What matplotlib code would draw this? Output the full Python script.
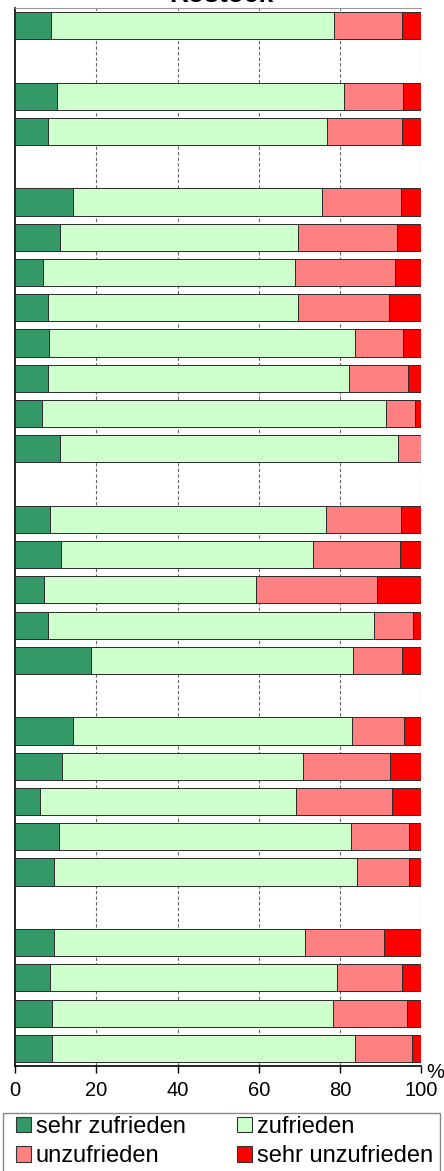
import numpy as np
import matplotlib
matplotlib.use("Agg")
import matplotlib.pyplot as plt
from matplotlib.patches import Patch, Rectangle

plt.rcParams['font.family'] = ['Liberation Sans', 'DejaVu Sans']

title = "Rostock"
series_names = ["sehr zufrieden", "zufrieden", "unzufrieden", "sehr unzufrieden"]
colors = ["#339966", "#CCFFCC", "#FF8080", "#FF0000"]
nan = np.nan

# 30 rows top-to-bottom; NaN marks empty spacer rows
sehr_zufrieden = [8.9, nan, 10.4, 8.0, nan, 14.1, 11.0, 6.8, 8.0, 8.2, 8.0, 6.5, 10.9, nan,
                  8.5, 11.3, 7.1, 8.0, 18.7, nan, 14.1, 11.6, 6.0, 10.7, 9.5, nan,
                  9.5, 8.5, 9.0, 9.0]
zufrieden = [69.7, nan, 70.7, 68.8, nan, 61.4, 58.8, 62.2, 61.8, 75.6, 74.3, 84.8, 83.5, nan,
             68.1, 62.2, 52.2, 80.5, 64.6, nan, 69.0, 59.4, 63.3, 72.0, 74.7, nan,
             61.8, 70.9, 69.4, 74.8]
unzufrieden = [16.8, nan, 14.5, 18.6, nan, 19.6, 24.4, 24.7, 22.4, 11.7, 14.4, 7.3, 5.6, nan,
               18.5, 21.4, 29.9, 9.5, 12.1, nan, 12.8, 21.4, 23.6, 14.3, 12.8, nan,
               19.6, 16.0, 18.1, 14.1]
sehr_unzufrieden = [4.6, nan, 4.4, 4.6, nan, 4.9, 5.8, 6.3, 7.8, 4.5, 3.3, 1.4, 0.0, nan,
                    4.9, 5.1, 10.8, 2.0, 4.6, nan, 4.1, 7.6, 7.1, 3.0, 3.0, nan,
                    9.1, 4.6, 3.5, 2.1]
xticks = [0, 20, 40, 60, 80, 100]

W, H = 444, 1171
fig = plt.figure(figsize=(W / 100, H / 100), dpi=100)
ax = fig.add_axes([15.3 / W, 1 - 1066 / H, (421 - 15.3) / W, (1066 - 8) / H])

series = [sehr_zufrieden, zufrieden, unzufrieden, sehr_unzufrieden]
n = len(sehr_zufrieden)
y = np.arange(n)
left = np.zeros(n)
for vals, c in zip(series, colors):
    v = np.array(vals, dtype=float)
    mask = ~np.isnan(v)
    ax.barh(y[mask], v[mask], left=left[mask], height=0.77, color=c,
            edgecolor="#2a2a2a", linewidth=0.7, zorder=3)
    left[mask] += v[mask]

ax.set_xlim(0, 100)
ax.set_ylim(n - 0.5, -0.5)
ax.set_yticks([])
ax.set_xticks(xticks)
ax.set_xticklabels([str(t) for t in xticks], fontsize=14.5)
ax.tick_params(axis='x', direction='out', length=5, width=1, color='black', pad=6)
for xv in xticks[1:]:
    ax.axvline(xv, color='#666666', linestyle=(0, (3, 2)), linewidth=0.8, zorder=1)
ax.spines['left'].set_color('black')
ax.spines['left'].set_linewidth(1.2)
ax.spines['bottom'].set_color('black')
ax.spines['bottom'].set_linewidth(1.2)
ax.spines['right'].set_visible(False)
ax.spines['top'].set_color('#999999')
ax.spines['top'].set_linewidth(0.8)

fig.text(421 / W + 0.012, 1 - 1072 / H, "%", fontsize=14.5, ha='left', va='center')
fig.text(221 / W, 1 - 2 / H, title, fontsize=19, fontweight='bold', ha='center', va='baseline')

# legend frame drawn separately (extends beyond the bottom edge as in the reference)
fig.patches.append(Rectangle((3 / W, 1 - 1180 / H), (440 - 3) / W, (1180 - 1113) / H,
                             transform=fig.transFigure, facecolor='white',
                             edgecolor='#888888', linewidth=1.0, zorder=0))
order = [0, 2, 1, 3]
handles = [Patch(facecolor=colors[i], edgecolor='#333333', linewidth=0.8) for i in order]
labels = [series_names[i] for i in order]
leg = fig.legend(handles, labels, ncol=2, loc='upper left',
                 bbox_to_anchor=(16 / W, 1 - 1116 / H), fontsize=17,
                 frameon=False, handlelength=0.63, handleheight=0.63, handletextpad=0.2,
                 columnspacing=2.2, borderpad=0, labelspacing=0.3, borderaxespad=0)

fig.savefig("out.png", dpi=100)
